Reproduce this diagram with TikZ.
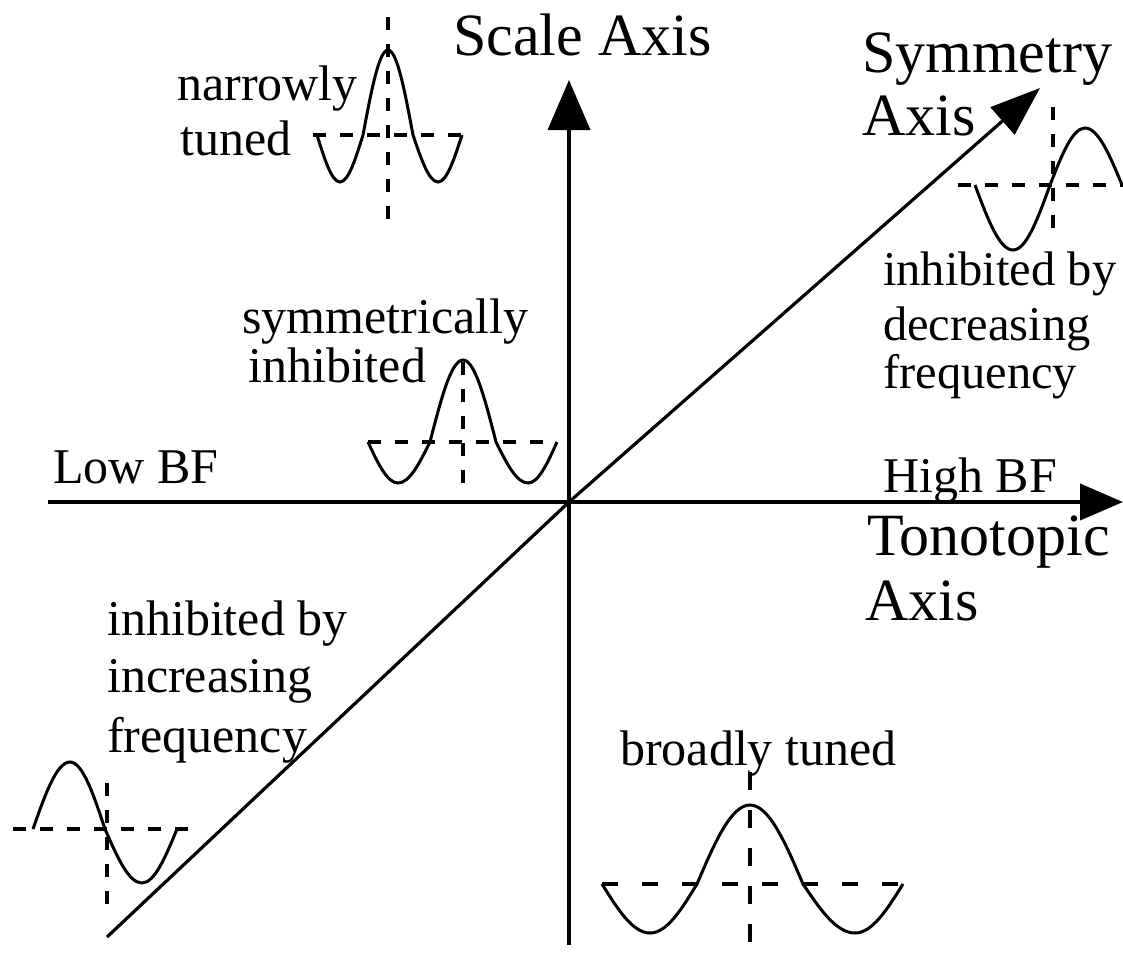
\documentclass[tikz,border=0pt]{standalone}
\usepackage{fontspec}
\setmainfont{Liberation Serif}
\usetikzlibrary{arrows.meta}
\begin{document}
\begin{tikzpicture}[x=1pt,y=-1pt,
  big/.style={font=\fontsize{60}{65}\selectfont, inner sep=0pt, anchor=base west},
  lbl/.style={font=\fontsize{50}{55}\selectfont, inner sep=0pt, anchor=base west},
  lblr/.style={font=\fontsize{48.5}{55}\selectfont, inner sep=0pt, anchor=base west},
  axisline/.style={line width=3.8pt},
  wave/.style={line width=3pt},
  guide/.style={line width=3.2pt, dash pattern=on 13pt off 14pt},
]
\useasboundingbox (0,0) rectangle (1123,959);
\fill[white] (0,0) rectangle (1123,959);
% axes
\coordinate (O) at (569,502);
\coordinate (xL) at (48,502);
\coordinate (xR) at (1123,502);
\coordinate (yB) at (569,945);
\coordinate (yT) at (569,80);
\coordinate (dB) at (107,937);
\coordinate (dT) at (1040,88);
\draw[axisline, -{Triangle[length=43pt,width=36pt]}] (xL) -- (xR);
\draw[axisline, -{Triangle[length=50pt,width=42pt]}] (yB) -- (yT);
\draw[line width=3.2pt, -{Triangle[length=50pt,width=36pt]}] (dB) -- (O) -- (dT);
% narrowly tuned
\draw[guide] (313,135) -- (462,135);
\draw[guide] (388,17) -- (388,222);
\draw[wave] (317,135) sin (340,182) cos (363,135) sin (388,50) cos (413,135) sin (438,182) cos (462,135);
% symmetrically inhibited
\draw[guide] (368,442) -- (557,442);
\draw[guide] (463,362) -- (463,485);
\draw[wave] (368,442) sin (398,483) cos (430,442) sin (463,360) cos (496,442) sin (528,483) cos (557,442);
% broadly tuned
\draw[guide, dash pattern=on 16pt off 24pt] (602,884) -- (903,884);
\draw[guide, dash pattern=on 18pt off 20pt] (750,772) -- (750,959);
\draw[wave] (602,884) sin (650,933) cos (697,884) sin (750,805) cos (803,884) sin (855,933) cos (903,884);
% inhibited by decreasing frequency
\draw[guide] (958,185) -- (1123,185);
\draw[guide] (1053,107) -- (1053,230);
\draw[wave] (975,185) sin (1013,250) cos (1050,185) sin (1085,128) cos (1122,185);
% inhibited by increasing frequency
\draw[guide] (13,829) -- (192,829);
\draw[guide] (107,783) -- (107,910);
\draw[wave] (33,829) sin (70,762) cos (105,829) sin (142,883) cos (177,829);
% labels
\node[big] (scale) at (453,55) {Scale Axis};
\node[big] (sym1) at (862,72) {Symmetry};
\node[big] (sym2) at (862,135) {Axis};
\node[big] (ton1) at (867,555) {Tonotopic};
\node[big] (ton2) at (865,620) {Axis};
\node[lbl] (high) at (883,492) {High BF};
\node[lbl] (low) at (53,483) {Low BF};
\node[lbl] (nar1) at (177,100) {narrowly};
\node[lbl] (nar2) at (180,155) {tuned};
\node[lbl] (sy1) at (242,333) {symmetrically};
\node[lbl] (sy2) at (248,382) {inhibited};
\node[lblr] (dec1) at (883,285) {inhibited by};
\node[lblr] (dec2) at (883,340) {decreasing};
\node[lblr] (dec3) at (883,388) {frequency};
\node[lbl] (inc1) at (107,635) {inhibited by};
\node[lbl] (inc2) at (107,692) {increasing};
\node[lbl] (inc3) at (107,752) {frequency};
\node[lbl] (broad) at (620,765) {broadly tuned};
\end{tikzpicture}
\end{document}
